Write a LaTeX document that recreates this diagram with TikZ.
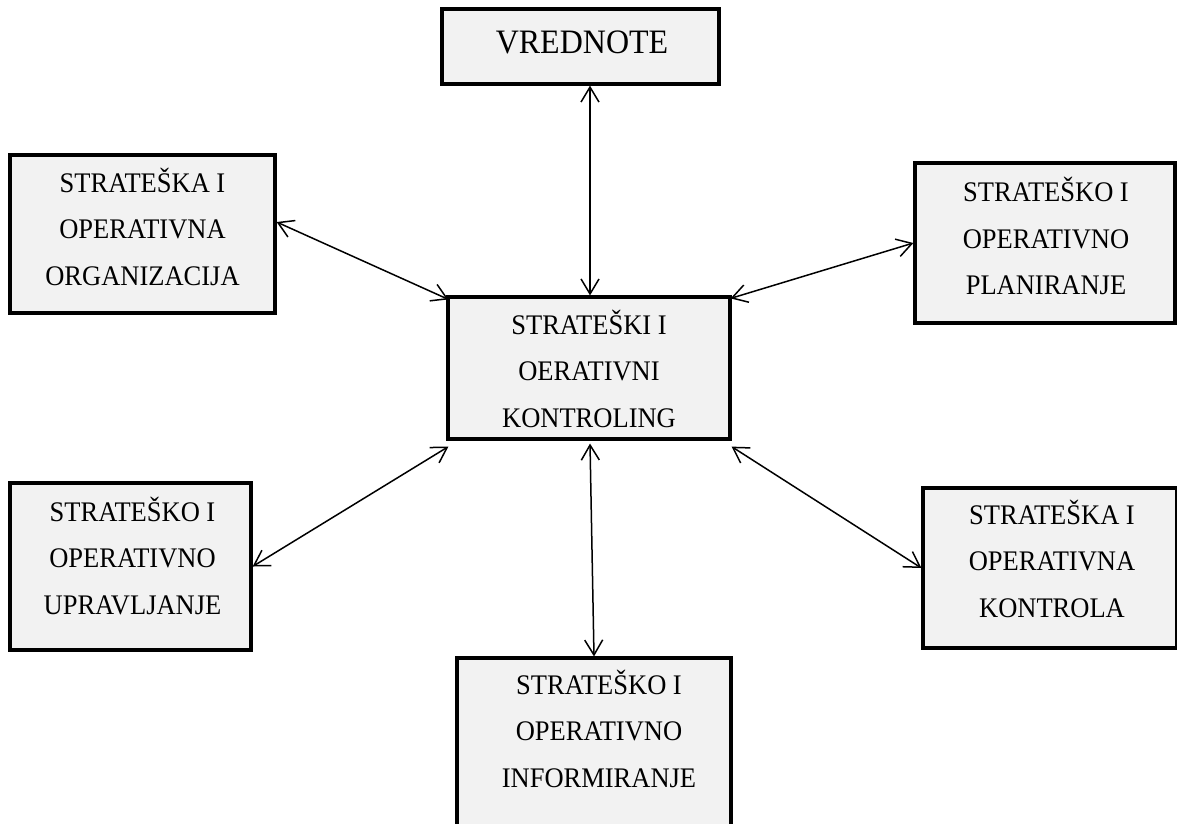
\documentclass[tikz,border=0pt]{standalone}
\usepackage{graphicx}
\usepackage{fontspec}
\setmainfont{Liberation Serif}
\usetikzlibrary{arrows.meta}
\definecolor{boxfill}{RGB}{242,242,242}
\newcommand{\btxt}[3]{\raisebox{#2}[0pt][0pt]{\makebox[0pt]{\hspace*{#1}\hspace*{#1}\scalebox{1}[1.07]{\begin{tabular}[t]{@{}c@{}}#3\end{tabular}}}}}
\begin{document}
\begin{tikzpicture}[x=1pt,y=-1pt,
  box/.style={draw=black, line width=3.2pt, fill=boxfill, inner sep=0pt, font=\fontsize{26.5}{43.5}\selectfont},
  link/.style={line width=1.5pt, {Straight Barb[length=15pt,width=18pt]}-{Straight Barb[length=15pt,width=18pt]}}]
\useasboundingbox (0,0) rectangle (1177,823);
\clip (0,0) rectangle (1177,823);
\node[box, minimum width=277pt, minimum height=75pt, font=\fontsize{32}{43.5}\selectfont] (val) at (580.5,46.5) {\btxt{1.5pt}{-6.8pt}{VREDNOTE}};
\node[box, minimum width=282pt, minimum height=142pt] (ctr) at (589,368) {\btxt{0pt}{33.6pt}{STRATEŠKI I\\OERATIVNI\\KONTROLING}};
\node[box, minimum width=265pt, minimum height=158pt] (org) at (142.5,234) {\btxt{0pt}{41.6pt}{STRATEŠKA I\\OPERATIVNA\\ORGANIZACIJA}};
\node[box, minimum width=260pt, minimum height=160pt] (plan) at (1045,243) {\btxt{1pt}{41.1pt}{STRATEŠKO I\\OPERATIVNO\\PLANIRANJE}};
\node[box, minimum width=241pt, minimum height=167pt] (upr) at (130.5,566.5) {\btxt{2pt}{45.1pt}{STRATEŠKO I\\OPERATIVNO\\UPRAVLJANJE}};
\node[box, minimum width=254pt, minimum height=160pt] (kon) at (1050,568) {\btxt{2pt}{43.6pt}{STRATEŠKA I\\OPERATIVNA\\KONTROLA}};
\node[box, minimum width=274pt, minimum height=192pt] (inf) at (594,754) {\btxt{5pt}{59.6pt}{STRATEŠKO I\\OPERATIVNO\\INFORMIRANJE}};
\draw[link] ([xshift=9.5pt]val.south) -- ([xshift=1pt]ctr.north);
\draw[link] ([yshift=12pt]org.east) -- ([shift={(2pt,-4pt)}]ctr.north west);
\draw[link] (plan.west) -- ([shift={(-1pt,-3pt)}]ctr.north east);
\draw[link] (upr.east) -- ([shift={(2pt,-6pt)}]ctr.south west);
\draw[link] (kon.west) -- ([shift={(0pt,-6pt)}]ctr.south east);
\draw[link] ([shift={(1pt,-3pt)}]ctr.south) -- (inf.north);
\end{tikzpicture}
\end{document}
